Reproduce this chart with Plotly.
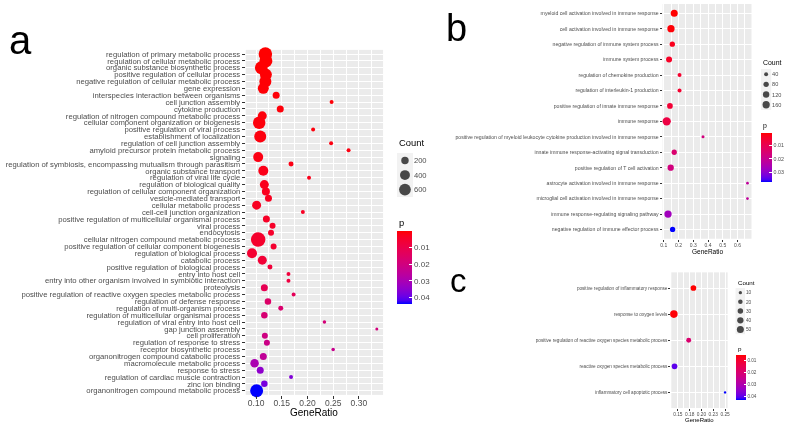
import numpy as np
import plotly.graph_objects as go

# ---------------- data ----------------
a_terms = [
    "regulation of primary metabolic process",
    "regulation of cellular metabolic process",
    "organic substance biosynthetic process",
    "positive regulation of cellular process",
    "negative regulation of cellular metabolic process",
    "gene expression",
    "interspecies interaction between organisms",
    "cell junction assembly",
    "cytokine production",
    "regulation of nitrogen compound metabolic process",
    "cellular component organization or biogenesis",
    "positive regulation of viral process",
    "establishment of localization",
    "regulation of cell junction assembly",
    "amyloid precursor protein metabolic process",
    "signaling",
    "regulation of symbiosis, encompassing mutualism through parasitism",
    "organic substance transport",
    "regulation of viral life cycle",
    "regulation of biological quality",
    "regulation of cellular component organization",
    "vesicle-mediated transport",
    "cellular metabolic process",
    "cell-cell junction organization",
    "positive regulation of multicellular organismal process",
    "viral process",
    "endocytosis",
    "cellular nitrogen compound metabolic process",
    "positive regulation of cellular component biogenesis",
    "regulation of biological process",
    "catabolic process",
    "positive regulation of biological process",
    "entry into host cell",
    "entry into other organism involved in symbiotic interaction",
    "proteolysis",
    "positive regulation of reactive oxygen species metabolic process",
    "regulation of defense response",
    "regulation of multi-organism process",
    "regulation of multicellular organismal process",
    "regulation of viral entry into host cell",
    "gap junction assembly",
    "cell proliferation",
    "regulation of response to stress",
    "receptor biosynthetic process",
    "organonitrogen compound catabolic process",
    "macromolecule metabolic process",
    "response to stress",
    "regulation of cardiac muscle contraction",
    "zinc ion binding",
    "organonitrogen compound metabolic process",
]
a_ratio = [0.118, 0.119, 0.110, 0.119, 0.118, 0.114, 0.139, 0.247, 0.147, 0.112,
           0.106, 0.211, 0.108, 0.246, 0.280, 0.104, 0.168, 0.114, 0.203, 0.116,
           0.119, 0.124, 0.101, 0.191, 0.120, 0.132, 0.129, 0.104, 0.134, 0.092,
           0.112, 0.127, 0.163, 0.163, 0.116, 0.173, 0.123, 0.148, 0.116, 0.233,
           0.335, 0.117, 0.121, 0.250, 0.114, 0.097, 0.108, 0.168, 0.116, 0.101]
a_count = [816, 750, 720, 625, 625, 512, 171, 35, 171, 319,
           686, 35, 625, 35, 35, 410, 69, 410, 35, 319,
           240, 171, 319, 35, 171, 115, 115, 958, 115, 410,
           319, 69, 35, 35, 171, 35, 142, 69, 142, 23,
           13, 115, 115, 23, 171, 278, 171, 35, 142, 750]
a_p = [0.0005, 0.0006, 0.0007, 0.0008, 0.0009, 0.0010, 0.0011, 0.0012, 0.0013, 0.0014,
       0.0015, 0.0016, 0.0017, 0.0018, 0.0019, 0.0021, 0.0023, 0.0025, 0.0027, 0.0029,
       0.0032, 0.0035, 0.0038, 0.0041, 0.0044, 0.0047, 0.0050, 0.0053, 0.0057, 0.0062,
       0.0068, 0.0075, 0.0080, 0.0085, 0.0120, 0.0130, 0.0160, 0.0170, 0.0180, 0.0190,
       0.0200, 0.0210, 0.0220, 0.0230, 0.0250, 0.0300, 0.0350, 0.0370, 0.0380, 0.0441]

b_terms = [
    "myeloid cell activation involved in immune response",
    "cell activation involved in immune response",
    "negative regulation of immune system process",
    "immune system process",
    "regulation of chemokine production",
    "regulation of interleukin-1 production",
    "positive regulation of innate immune response",
    "immune response",
    "positive regulation of myeloid leukocyte cytokine production involved in immune response",
    "innate immune response-activating signal transduction",
    "positive regulation of T cell activation",
    "astrocyte activation involved in immune response",
    "microglial cell activation involved in immune response",
    "immune response-regulating signaling pathway",
    "negative regulation of immune effector process",
]
b_ratio = [0.171, 0.149, 0.158, 0.136, 0.207, 0.207, 0.142, 0.120, 0.366, 0.171,
           0.147, 0.667, 0.667, 0.129, 0.160]
b_count = [147, 161, 78, 104, 40, 40, 92, 214, 20, 78, 116, 15, 15, 161, 78]
b_p = [0.0008, 0.0012, 0.0030, 0.0040, 0.0050, 0.0052, 0.0060, 0.0080, 0.0173, 0.0147,
       0.0173, 0.0217, 0.0217, 0.0272, 0.0374]

c_terms = [
    "positive regulation of inflammatory response",
    "response to oxygen levels",
    "positive regulation of reactive oxygen species metabolic process",
    "reactive oxygen species metabolic process",
    "inflammatory cell apoptotic process",
]
c_ratio = [0.183, 0.1416, 0.173, 0.143, 0.250]
c_count = [32, 58, 24, 32, 5]
c_p = [0.0052, 0.0056, 0.0196, 0.0400, 0.0430]

a_count_breaks = [200, 400, 600]
b_count_breaks = [40, 80, 120, 160]
c_count_breaks = [10, 20, 30, 40, 50]
p_ticks = [0.01, 0.02, 0.03, 0.04]
c_ratio_ticks = [0.15, 0.175, 0.20, 0.225, 0.25]
c_ratio_ticktext = ["0.15", "0.18", "0.20", "0.23", "0.25"]

# ---------------- helpers ----------------
W, H = 794, 426
FONT = "Liberation Sans, Arial, sans-serif"
GRAY30 = "#4D4D4D"


def px(x):
    return x / W


def py(y):
    return 1 - y / H


# red -> blue gradient interpolated in CIE Lab (as ggplot2 does)
M = np.array([[0.4124564, 0.3575761, 0.1804375],
              [0.2126729, 0.7151522, 0.0721750],
              [0.0193339, 0.1191920, 0.9503041]])
WHITE = np.array([0.95047, 1.0, 1.08883])


def hex_to_lab(h):
    rgb = np.array([int(h[i:i + 2], 16) / 255 for i in (1, 3, 5)])
    lin = np.where(rgb <= 0.04045, rgb / 12.92, ((rgb + 0.055) / 1.055) ** 2.4)
    xyz = M @ lin / WHITE
    d = 6 / 29
    f = np.where(xyz > d ** 3, np.cbrt(xyz), xyz / (3 * d * d) + 4 / 29)
    return np.array([116 * f[1] - 16, 500 * (f[0] - f[1]), 200 * (f[1] - f[2])])


def lab_to_hex(lab):
    d = 6 / 29
    fy = (lab[0] + 16) / 116
    f = np.array([fy + lab[1] / 500, fy, fy - lab[2] / 200])
    xyz = np.where(f > d, f ** 3, 3 * d * d * (f - 4 / 29)) * WHITE
    lin = np.linalg.solve(M, xyz)
    lin = np.clip(lin, 0, 1)
    rgb = np.where(lin <= 0.0031308, 12.92 * lin, 1.055 * lin ** (1 / 2.4) - 0.055)
    rgb = np.clip(np.round(rgb * 255), 0, 255).astype(int)
    return "#%02X%02X%02X" % tuple(rgb)


# colour values are negated so that the colour bar runs with small p at the top
# (as in the ggplot original); the scale therefore goes blue (low) -> red (high)
lab_blue, lab_red = hex_to_lab("#0000FF"), hex_to_lab("#FF0000")
colorscale = [[float(t), lab_to_hex(lab_blue + (lab_red - lab_blue) * t)]
              for t in np.linspace(0, 1, 21)]


def neg(v):
    return [-x for x in v]


def size_a(c):
    return list(1.5 + 0.42 * np.sqrt(np.array(c, dtype=float)))


def size_b(c):
    return list(0.7 + 0.52 * np.sqrt(np.array(c, dtype=float)))


def size_c(c):
    return list(0.3 + 0.95 * np.sqrt(np.array(c, dtype=float)))


def expanded(vals, mult=0.05):
    lo, hi = min(vals), max(vals)
    w = hi - lo
    return [lo - mult * w, hi + mult * w]


fig = go.Figure()

# main dot plots
fig.add_trace(go.Scatter(x=a_ratio, y=a_terms, mode="markers", xaxis="x", yaxis="y",
                         marker=dict(size=size_a(a_count), color=neg(a_p), coloraxis="coloraxis",
                                     line=dict(width=0), opacity=1),
                         showlegend=False, hoverinfo="skip", cliponaxis=False))
fig.add_trace(go.Scatter(x=b_ratio, y=b_terms, mode="markers", xaxis="x2", yaxis="y2",
                         marker=dict(size=size_b(b_count), color=neg(b_p), coloraxis="coloraxis2",
                                     line=dict(width=0), opacity=1),
                         showlegend=False, hoverinfo="skip", cliponaxis=False))
fig.add_trace(go.Scatter(x=c_ratio, y=c_terms, mode="markers", xaxis="x3", yaxis="y3",
                         marker=dict(size=size_c(c_count), color=neg(c_p), coloraxis="coloraxis3",
                                     line=dict(width=0), opacity=1),
                         showlegend=False, hoverinfo="skip", cliponaxis=False))

# size legends (drawn as small subplots)
for brks, sz, ax in [(a_count_breaks, size_a, "4"), (b_count_breaks, size_b, "5"),
                     (c_count_breaks, size_c, "6")]:
    fig.add_trace(go.Scatter(x=[0.5] * len(brks), y=list(range(len(brks))), mode="markers",
                             xaxis="x" + ax, yaxis="y" + ax,
                             marker=dict(size=sz(brks), color="black", line=dict(width=0)),
                             showlegend=False, hoverinfo="skip", cliponaxis=False))


def main_axes(xdom, ydom, xr, terms, ytick, xtick, ticklen, anchor_x, anchor_y,
              xmajor, xminor, standoff):
    xa = dict(domain=xdom, range=xr, anchor=anchor_y, showgrid=True, gridcolor="white",
              gridwidth=1.1, zeroline=False, showline=False, ticks="outside",
              ticklen=ticklen, tickwidth=0.7, tickcolor="#333333", ticklabelstandoff=standoff,
              tickfont=dict(size=xtick, color=GRAY30, family=FONT),
              minor=dict(showgrid=True, gridcolor="white", gridwidth=0.5, ticks="", **xminor),
              **xmajor)
    ya = dict(domain=ydom, anchor=anchor_x, type="category", categoryorder="array",
              categoryarray=terms[::-1], range=[-0.6, len(terms) - 0.4],
              tickmode="array", tickvals=terms, ticktext=terms,
              showgrid=True, gridcolor="white", gridwidth=1.1, zeroline=False, showline=False,
              ticks="outside", ticklen=ticklen, tickwidth=0.7, tickcolor="#333333",
              tickfont=dict(size=ytick, color=GRAY30, family=FONT))
    return xa, ya


xa1, ya1 = main_axes([px(245), px(383)], [py(395.8), py(50)], expanded(a_ratio), a_terms,
                     7.7, 8.5, 3, "x", "y",
                     dict(tickmode="linear", tick0=0.1, dtick=0.05, tickformat=".2f"),
                     dict(tickmode="linear", tick0=0.075, dtick=0.025), -3)
xa2, ya2 = main_axes([px(664), px(753.3)], [py(239.3), py(4)], expanded(b_ratio), b_terms,
                     5.15, 5, 2, "x2", "y2",
                     dict(tickmode="linear", tick0=0.1, dtick=0.1, tickformat=".1f"),
                     dict(tickmode="linear", tick0=0.05, dtick=0.05), -1)
xa3, ya3 = main_axes([px(672.7), px(729.3)], [py(409), py(273)], expanded(c_ratio), c_terms,
                     4.63, 4.8, 2, "x3", "y3",
                     dict(tickmode="array", tickvals=c_ratio_ticks, ticktext=c_ratio_ticktext),
                     dict(tickmode="linear", tick0=0.1375, dtick=0.025), -1)


def legend_axes(xdom, ydom, labels, fs, anchor_x, anchor_y):
    xa = dict(domain=xdom, range=[0, 1], anchor=anchor_y, visible=False, fixedrange=True)
    ya = dict(domain=ydom, range=[len(labels) - 0.5, -0.5], anchor=anchor_x, side="right",
              tickmode="array", tickvals=list(range(len(labels))),
              ticktext=[str(v) for v in labels], ticks="", showgrid=False, zeroline=False,
              showline=False, tickfont=dict(size=fs, color=GRAY30, family=FONT))
    return xa, ya


xa4, ya4 = legend_axes([px(397), px(413)], [py(197.3), py(153.7)], a_count_breaks, 7.6, "x4", "y4")
xa5, ya5 = legend_axes([px(763), px(773)], [py(110.1), py(69.2)], b_count_breaks, 5.6, "x5", "y5")
xa6, ya6 = legend_axes([px(737.5), px(746.7)], [py(334.9), py(288.7)], c_count_breaks, 4.8, "x6", "y6")


def cbar(x_left, y_top, y_bot, thick, fs):
    return dict(x=px(x_left), xanchor="left", xref="paper",
                y=py((y_top + y_bot) / 2), yanchor="middle", yref="paper",
                len=y_bot - y_top, lenmode="pixels", thickness=thick, thicknessmode="pixels",
                xpad=0, ypad=0, outlinewidth=0, tickmode="array", tickvals=neg(p_ticks),
                ticktext=["%.2f" % v for v in p_ticks], ticks="inside", ticklen=max(2, thick / 5),
                tickcolor="white", tickwidth=0.8,
                tickfont=dict(size=fs, color=GRAY30, family=FONT))


shapes = []
for ax in ("4", "5", "6"):
    shapes.append(dict(type="rect", xref="x%s domain" % ax, yref="y%s domain" % ax,
                       x0=0, x1=1, y0=0, y1=1, fillcolor="#F2F2F2", line=dict(width=0),
                       layer="below"))

annotations = []


def ann(text, x, y, size, xanchor="left", yanchor="middle", color="black"):
    annotations.append(dict(text=text, x=px(x), y=py(y), xref="paper", yref="paper",
                            xanchor=xanchor, yanchor=yanchor, showarrow=False,
                            font=dict(size=size, color=color, family=FONT)))


ann("a", 18.5, 40, 40, xanchor="center")
ann("b", 457, 28.5, 38, xanchor="center")
ann("c", 458.5, 281, 33, xanchor="center")
ann("Count", 397, 143, 9.4)
ann("p", 397, 223, 9.4)
ann("Count", 762.5, 62.7, 6.9)
ann("p", 762.5, 126.7, 6.9)
ann("Count", 737.5, 282.7, 6.2)
ann("p", 737.5, 349.3, 6.2)
ann("GeneRatio", 314, 413.5, 10, xanchor="center")
ann("GeneRatio", 708.7, 251.7, 6.5, xanchor="center")
ann("GeneRatio", 701, 420.5, 6, xanchor="center")

fig.update_layout(
    width=W, height=H, margin=dict(l=0, r=0, t=0, b=0),
    paper_bgcolor="white", plot_bgcolor="#EBEBEB",
    font=dict(family=FONT, color=GRAY30),
    showlegend=False, hovermode=False,
    xaxis=xa1, yaxis=ya1, xaxis2=xa2, yaxis2=ya2, xaxis3=xa3, yaxis3=ya3,
    xaxis4=xa4, yaxis4=ya4, xaxis5=xa5, yaxis5=ya5, xaxis6=xa6, yaxis6=ya6,
    coloraxis=dict(colorscale=colorscale, cmin=-max(a_p), cmax=-min(a_p),
                   colorbar=cbar(397, 232, 305, 15, 8)),
    coloraxis2=dict(colorscale=colorscale, cmin=-max(b_p), cmax=-min(b_p),
                    colorbar=cbar(762.7, 133.3, 182.7, 10.6, 5.3)),
    coloraxis3=dict(colorscale=colorscale, cmin=-max(c_p), cmax=-min(c_p),
                    colorbar=cbar(737.7, 355.7, 400.7, 9.6, 4.6)),
    shapes=shapes, annotations=annotations,
)

fig.write_html(
    "out.html", config={"displayModeBar": False},
    post_script=("document.body.style.margin='0px';"
                 "document.querySelectorAll('.main-svg').forEach(function(s){"
                 "s.style.willChange='transform';});"))
